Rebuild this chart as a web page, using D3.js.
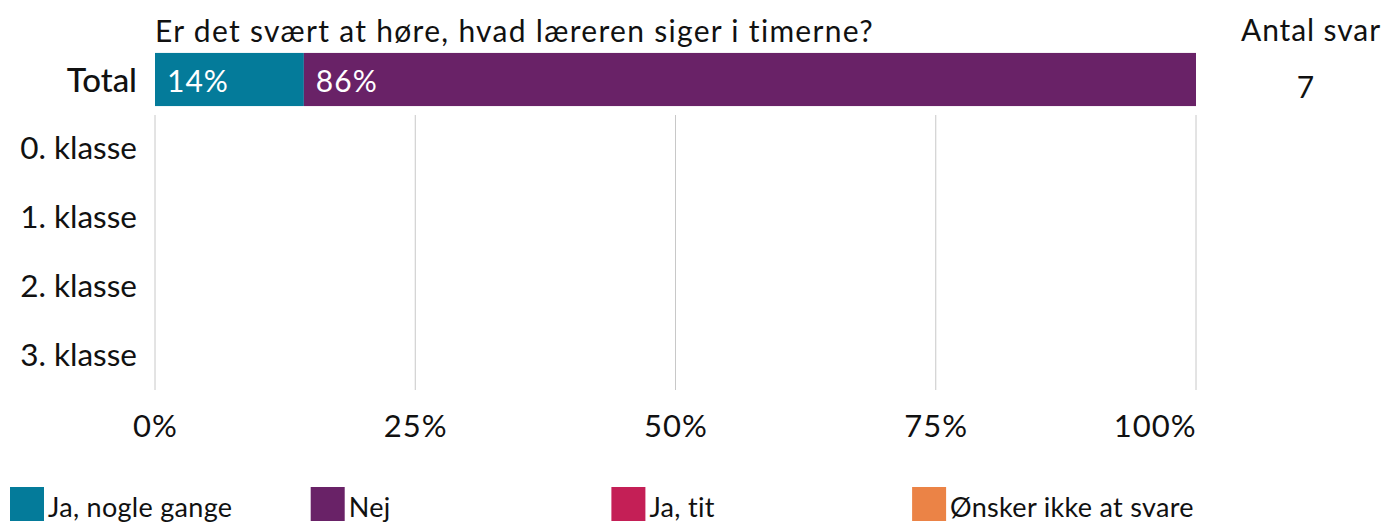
<!DOCTYPE html>
<html>
<head>
<meta charset="utf-8">
<script src="https://cdn.jsdelivr.net/npm/d3@7"></script>
<style>
  body { margin: 0; background: #fff; }
  svg { font-family: Lato, "Open Sans", sans-serif; font-variant-ligatures: none; }
</style>
</head>
<body>
<script>
(function(){

    //chart data
    var rows = ["Total", "0. klasse", "1. klasse", "2. klasse", "3. klasse"];
    var answers = ["Ja, nogle gange", "Nej", "Ja, tit", "Ønsker ikke at svare"];
    var colors = ["#047b9a", "#692267", "#c41f56", "#eb8346"];
    // share per answer for each row (only Total has responses)
    var shares = [
        [0.143, 0.857, 0, 0],
        [0, 0, 0, 0],
        [0, 0, 0, 0],
        [0, 0, 0, 0],
        [0, 0, 0, 0]
    ];
    var counts = [7, null, null, null, null];
    var ticks = [0, 0.25, 0.5, 0.75, 1];
    var title = "Er det svært at høre, hvad læreren siger i timerne?";

    var width = 1385, height = 523;

    var svg = d3.select("body").append("svg")
        .attr("width", width)
        .attr("height", height);

    var x = d3.scaleLinear().domain([0, 1]).range([155, 1196]);
    var y = d3.scaleBand().domain(rows).range([45, 390]).paddingInner(0.23).paddingOuter(0.115);

    //gridlines below the total row
    svg.selectAll(".grid")
        .data(ticks)
        .enter()
        .append("line")
        .attr("x1", function(d){ return x(d); })
        .attr("x2", function(d){ return x(d); })
        .attr("y1", 115)
        .attr("y2", 390)
        .style("stroke", "#c8c8c8")
        .style("stroke-width", 1);

    //x axis labels
    var xAxis = d3.axisBottom(x)
        .tickValues(ticks)
        .tickFormat(d3.format(".0%"))
        .tickSize(0)
        .tickPadding(0);
    var gx = svg.append("g")
        .attr("transform", "translate(0,415)")
        .call(xAxis);
    gx.select(".domain").remove();
    gx.selectAll("text")
        .attr("font-size", 31)
        .attr("font-family", "Lato")
        .attr("letter-spacing", 1)
        .attr("fill", "#111")
        .attr("text-anchor", function(d){ return d === 1 ? "end" : "middle"; });

    //row labels
    var yAxis = d3.axisLeft(y).tickSize(0).tickPadding(0);
    var gy = svg.append("g")
        .attr("transform", "translate(137,0)")
        .call(yAxis);
    gy.select(".domain").remove();
    gy.selectAll("text")
        .attr("font-size", function(d){ return d === "Total" ? 33 : 31.5; })
        .attr("font-family", "Lato")
        .attr("fill", "#111")
        .attr("font-weight", function(d){ return d === "Total" ? 500 : 400; })
        .attr("dy", function(d){ return d === "Total" ? "0.38em" : "0.32em"; });

    //stacked segments
    shares.forEach(function(row, i) {
        var cum = 0;
        row.forEach(function(v, j) {
            if (v > 0) {
                svg.append("rect")
                    .attr("x", x(cum))
                    .attr("y", y(rows[i]))
                    .attr("width", x(cum + v) - x(cum))
                    .attr("height", y.bandwidth())
                    .style("fill", colors[j]);
                svg.append("text")
                    .attr("x", x(cum) + 12)
                    .attr("y", y(rows[i]) + y.bandwidth() / 2 + 1.5)
                    .attr("dy", "0.35em")
                    .attr("font-size", 30)
                    .attr("letter-spacing", 1)
                    .attr("fill", "#fff")
                    .text(Math.round(v * 100) + "%");
            }
            cum += v;
        });
    });

    //title
    svg.append("text")
        .attr("x", 155)
        .attr("y", 41.5)
        .attr("font-size", 30)
        .attr("letter-spacing", 1.3)
        .attr("fill", "#111")
        .text(title);

    //response counts
    svg.append("text")
        .attr("x", 1311)
        .attr("y", 41)
        .attr("text-anchor", "middle")
        .attr("font-size", 30)
        .attr("letter-spacing", 0.9)
        .attr("fill", "#111")
        .text("Antal svar");
    svg.selectAll(".count")
        .data(counts)
        .enter()
        .append("text")
        .attr("x", 1305.5)
        .attr("y", function(d, i){ return y(rows[i]) + y.bandwidth() / 2 + 18; })
        .attr("text-anchor", "middle")
        .attr("font-size", 30)
        .attr("fill", "#111")
        .text(function(d){ return d == null ? "" : d; });

    //legend
    var legend = svg.selectAll(".legend")
        .data(answers)
        .enter()
        .append("g")
        .attr("transform", function(d, i){ return "translate(" + (10 + i * 300.7) + ",487)"; });
    legend.append("rect")
        .attr("width", 34)
        .attr("height", 34)
        .style("fill", function(d, i){ return colors[i]; });
    legend.append("text")
        .attr("x", 38)
        .attr("y", 30)
        .attr("font-size", 27)
        .attr("letter-spacing", 0.3)
        .attr("fill", "#111")
        .text(function(d){ return d; });
})();
</script>
</body>
</html>
